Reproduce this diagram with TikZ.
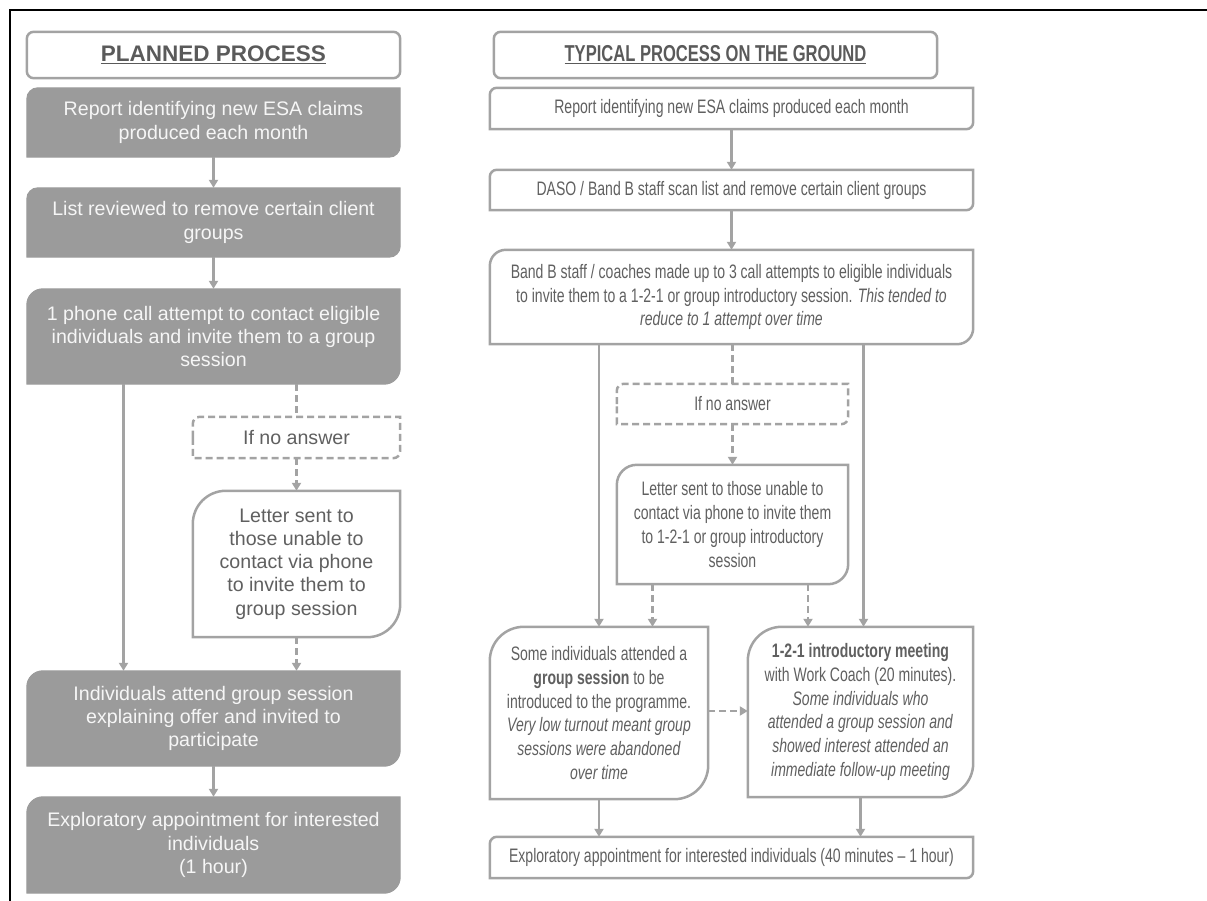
\documentclass[tikz,border=0pt]{standalone}
\usepackage{fontspec}
\setmainfont{Liberation Sans}
\newfontfamily\narrowfont[FakeStretch=0.72]{Liberation Sans}
\usetikzlibrary{arrows.meta,backgrounds}
\definecolor{gfill}{HTML}{9B9B9B}
\definecolor{gline}{HTML}{A3A3A3}
\definecolor{gtext}{HTML}{606060}
\definecolor{ttext}{HTML}{5A5A5A}
\definecolor{wtext}{HTML}{F6F6F6}
% name, radius, style
\newcommand\diagshape[3]{%
  \begin{pgfonlayer}{background}
  \draw[#3] (#1.west) [rounded corners=#2] |- (#1.north) [sharp corners] -| (#1.east)
     [rounded corners=#2] |- (#1.south) [sharp corners] -| (#1.west) -- cycle;
  \end{pgfonlayer}}
\begin{document}
\begin{tikzpicture}[x=1pt,y=-1pt,
  bx/.style 2 args={minimum width=#1pt,minimum height=#2pt,inner sep=0pt,align=center},
  ltxt/.style={font=\fontsize{19.6}{23.2}\selectfont},
  rtxt/.style={font=\narrowfont\fontsize{19.5}{23.8}\selectfont,text=gtext},
  greyshape/.style={fill=gfill,draw=gfill,line width=1pt},
  whiteshape/.style={fill=white,draw=gline,line width=2.5pt},
  dashshape/.style={fill=white,draw=gline,line width=2.5pt,dash pattern=on 7pt off 4pt},
  arr/.style={draw=gline,line width=2.5pt,-{Triangle[length=8pt,width=9pt]}},
  darr/.style={arr,dash pattern=on 7pt off 4pt},
  dline/.style={draw=gline,line width=2.5pt,dash pattern=on 7pt off 4pt},
]
\useasboundingbox (0,0) rectangle (1207,901);
\draw[black,line width=1.5pt] (10,901) -- (10,10) -- (1207,10);

% ---------------- left column ----------------
\node[bx={373}{46},font=\fontsize{22.5}{26}\selectfont\bfseries,text=ttext] (lt) at (213.5,55) {\underline{PLANNED PROCESS}};
\draw[gline,line width=2.5pt,rounded corners=7pt,fill=white] (lt.south west) rectangle (lt.north east);
\node[bx={373}{46},font=\fontsize{22.5}{26}\selectfont\bfseries,text=ttext] at (lt) {\underline{PLANNED PROCESS}};

\node[bx={373}{69},ltxt,text=wtext] (l1) at (213.5,122.5) {Report identifying new ESA claims\\produced each month};
\diagshape{l1}{11pt}{greyshape}
\node[bx={373}{69},ltxt,text=wtext] (l2) at (213.5,222.5) {List reviewed to remove certain client\\groups};
\diagshape{l2}{11pt}{greyshape}
\node[bx={373}{95},ltxt,text=wtext] (l3) at (213.5,336.5) {1 phone call attempt to contact eligible\\individuals and invite them to a group\\session};
\diagshape{l3}{16pt}{greyshape}
\node[bx={207}{41},ltxt,text=gtext] (l4) at (296.5,437.5) {If no answer};
\diagshape{l4}{7pt}{dashshape}
\node[bx={207}{146},ltxt,text=gtext] (l5) at (296.5,564) {Letter sent to\\those unable to\\contact via phone\\to invite them to\\group session};
\diagshape{l5}{33pt}{whiteshape}
\node[bx={373}{95},ltxt,text=wtext] (l6) at (213.5,718.5) {Individuals attend group session\\explaining offer and invited to\\participate};
\diagshape{l6}{16pt}{greyshape}
\node[bx={373}{96},ltxt,text=wtext] (l7) at (213.5,845) {Exploratory appointment for interested\\individuals\\(1 hour)};
\diagshape{l7}{16pt}{greyshape}

\draw[arr] (l1.south) -- (l2.north);
\draw[arr] (l2.south) -- (l3.north);
\draw[arr] ([xshift=-90pt]l3.south) -- ([xshift=-90pt]l6.north);
\draw[dline] (l4.north |- l3.south) -- (l4.north);
\draw[darr] (l4.south) -- (l5.north);
\draw[darr] (l5.south) -- (l5.south |- l6.north);
\draw[arr] (l6.south) -- (l7.north);

% ---------------- right column ----------------
\node[bx={443}{46},font=\narrowfont\fontsize{23}{26}\selectfont\bfseries,text=ttext] (rt) at (715.5,55) {\underline{TYPICAL PROCESS ON THE GROUND}};
\draw[gline,line width=2.5pt,rounded corners=7pt,fill=white] (rt.south west) rectangle (rt.north east);
\node[bx={443}{46},font=\narrowfont\fontsize{23}{26}\selectfont\bfseries,text=ttext] at (rt) {\underline{TYPICAL PROCESS ON THE GROUND}};

\node[bx={483}{41},rtxt] (r1) at (731.5,108.5) {Report identifying new ESA claims produced each month};
\diagshape{r1}{7pt}{whiteshape}
\node[bx={483}{40},rtxt] (r2) at (731.5,190) {DASO / Band B staff scan list and remove certain client groups};
\diagshape{r2}{7pt}{whiteshape}
\node[bx={483}{94},rtxt] (r3) at (731.5,297) {Band B staff / coaches made up to 3 call attempts to eligible individuals\\to invite them to a 1-2-1 or group introductory session. \textit{This tended to}\\\textit{reduce to 1 attempt over time}};
\diagshape{r3}{16pt}{whiteshape}
\node[bx={231}{40},rtxt] (r4) at (732.5,404) {If no answer};
\diagshape{r4}{7pt}{dashshape}
\node[bx={231}{119},rtxt] (r5) at (732.5,524.5) {Letter sent to those unable to\\contact via phone to invite them\\to 1-2-1 or group introductory\\session};
\diagshape{r5}{20pt}{whiteshape}
\node[bx={218}{172},rtxt] (r6) at (599,713) {Some individuals attended a\\\textbf{group session} to be\\introduced to the programme.\\\textit{Very low turnout meant group}\\\textit{sessions were abandoned}\\\textit{over time}};
\diagshape{r6}{34pt}{whiteshape}
\node[bx={225}{170},rtxt] (r7) at (860.5,712) {\textbf{1-2-1 introductory meeting}\\with Work Coach (20 minutes).\\\textit{Some individuals who}\\\textit{attended a group session and}\\\textit{showed interest attended an}\\\textit{immediate follow-up meeting}};
\diagshape{r7}{34pt}{whiteshape}
\node[bx={483}{41},rtxt] (r8) at (731.5,857.5) {Exploratory appointment for interested individuals (40 minutes – 1 hour)};
\diagshape{r8}{7pt}{whiteshape}

\draw[arr] (r1.south) -- (r2.north);
\draw[arr] (r2.south) -- (r3.north);
\draw[arr] (r3.south -| r6.north) -- (r6.north);
\draw[arr] ([xshift=3pt]r7.north |- r3.south) -- ([xshift=3pt]r7.north);
\draw[dline] (r4.north |- r3.south) -- (r4.north);
\draw[darr] (r4.south) -- (r5.north);
\draw[darr] ([xshift=-80pt]r5.south) -- ([xshift=-80pt]r5.south |- r6.north);
\draw[darr] ([xshift=75.5pt]r5.south) -- ([xshift=75.5pt]r5.south |- r7.north);
\draw[darr] ([yshift=2pt]r6.east) -- ([yshift=2pt]r6.east -| r7.west);
\draw[arr] (r6.south) -- (r6.south |- r8.north);
\draw[arr] (r7.south) -- (r7.south |- r8.north);
\end{tikzpicture}
\end{document}
